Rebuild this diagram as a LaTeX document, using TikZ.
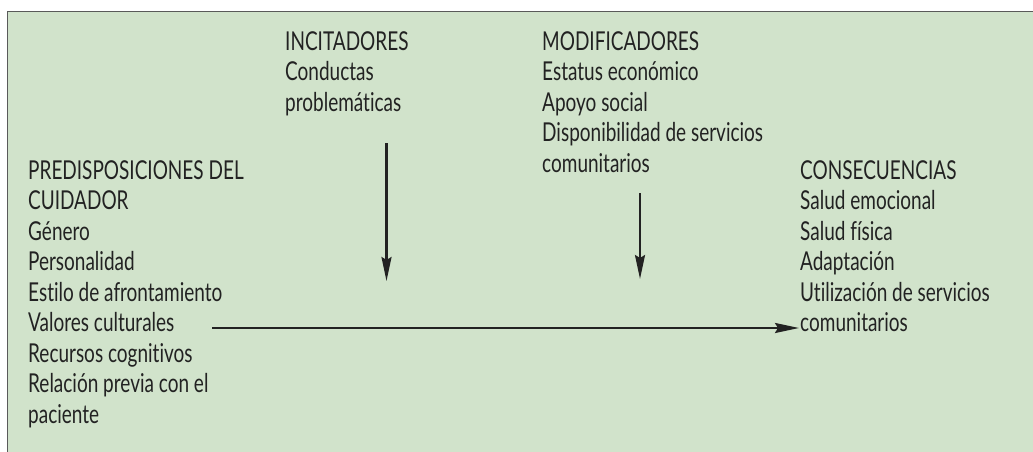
\documentclass[tikz,border=0pt]{standalone}
\usepackage{fontspec}
\setmainfont{Lato}[FakeStretch=0.73, Ligatures=NoCommon]
\usetikzlibrary{arrows.meta}
\definecolor{bg}{HTML}{D1E3CB}
\definecolor{ink}{HTML}{222222}
\definecolor{frame}{HTML}{5A5A5A}
\tikzset{
  block/.style={anchor=north west, inner sep=0pt, align=left, text=ink,
    font=\fontsize{26}{30.5}\selectfont},
  flow/.style={draw=ink, line width=2.2pt,
    -{Stealth[length=24pt,width=10pt,inset=3pt]}}
}
\begin{document}
\begin{tikzpicture}[x=1pt,y=-1pt]
\useasboundingbox (0,0) rectangle (1033,452);
\clip (0,0) rectangle (1033,452);
\draw[fill=bg, draw=frame, line width=1.5pt] (7.5,11.5) rectangle (1045,470);
\node[block] (pred) at (28,160) {PREDISPOSICIONES DEL\\CUIDADOR\\Género\\Personalidad\\Estilo de afrontamiento\\Valores culturales\\Recursos cognitivos\\Relación previa con el\\paciente};
\node[block] (inc) at (285,31) {INCITADORES\\Conductas\\problemáticas};
\node[block] (mod) at (542,31) {MODIFICADORES\\Estatus económico\\Apoyo social\\Disponibilidad de servicios\\comunitarios};
\node[block] (cons) at (800,160) {CONSECUENCIAS\\Salud emocional\\Salud física\\Adaptación\\Utilización de servicios\\comunitarios};
\coordinate (incS) at (386.5,143);
\coordinate (incE) at (386.5,281);
\coordinate (modS) at (640,193);
\coordinate (modE) at (640,279);
\coordinate (hS) at (212,328);
\coordinate (hE) at (799,328);
\draw[flow] (incS) -- (incE);
\draw[flow] (modS) -- (modE);
\draw[flow] (hS) -- (hE);
\end{tikzpicture}
\end{document}
